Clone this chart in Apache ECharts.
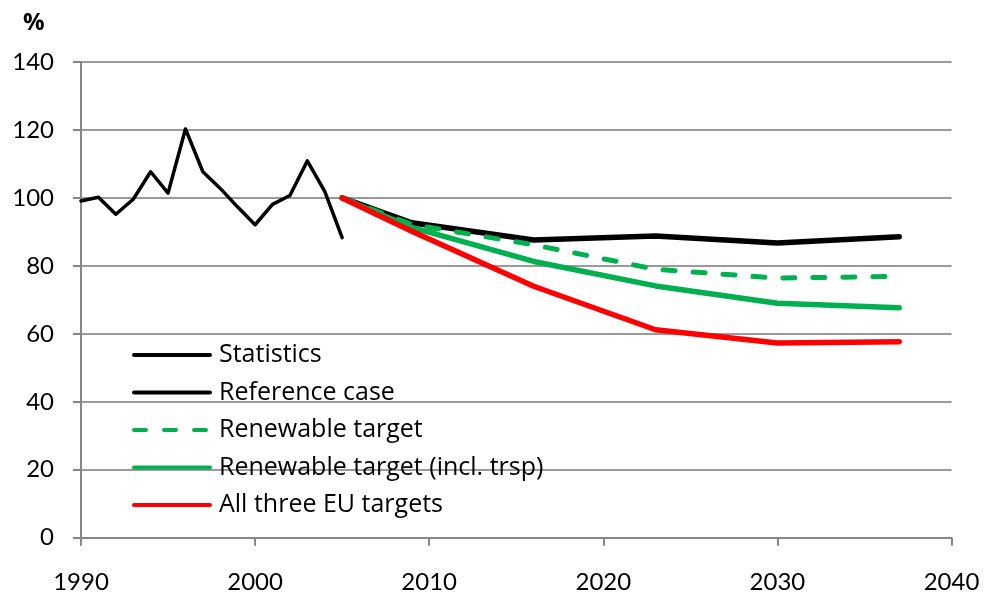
<!DOCTYPE html>
<html>
<head>
<meta charset="utf-8">
<script src="https://cdn.jsdelivr.net/npm/echarts@6/dist/echarts.min.js"></script>
<style>
  html, body { margin: 0; padding: 0; background: #ffffff; }
  #chart { width: 984px; height: 597px; }
</style>
</head>
<body>
<div id="chart"></div>
<script>
// Historical statistics (index, 2005 = 100)
const statYears = [1990, 1991, 1992, 1993, 1994, 1995, 1996, 1997, 1998, 1999, 2000, 2001, 2002, 2003, 2004, 2005];
const statValues = [99.1, 100.2, 95.2, 99.6, 107.7, 101.4, 120.3, 107.7, 102.8, 97.3, 92.1, 98.1, 100.7, 110.9, 101.9, 88.3];

// Scenario years and values
const scenYears = [2005, 2009, 2016, 2023, 2030, 2037];
const referenceCase = [100, 92.7, 87.6, 88.8, 86.7, 88.6];
const renewableTarget = [100, 92.2, 86.2, 79.0, 76.4, 76.9];
const renewableTrsp = [100, 91.3, 81.3, 74.1, 69.0, 67.7];
const allThreeTargets = [100, 90.2, 74.0, 61.2, 57.3, 57.7];

// Axis ticks
const xTicks = [1990, 2000, 2010, 2020, 2030, 2040];
const yTicks = [0, 20, 40, 60, 80, 100, 120, 140];

const seriesNames = ['Statistics', 'Reference case', 'Renewable target', 'Renewable target (incl. trsp)', 'All three EU targets'];

function pairs(xs, ys) { return xs.map((x, i) => [x, ys[i]]); }

const FONT = 'Lato, "Open Sans", sans-serif';
const LEGEND_FONT = '"Open Sans", Lato, sans-serif';
const GREEN = '#00B050';

const chart = echarts.init(document.getElementById('chart'), null, { renderer: 'canvas' });

function lineSeries(name, data, color, width, dash) {
  return {
    name: name,
    type: 'line',
    data: data,
    symbol: 'none',
    smooth: false,
    animation: false,
    lineStyle: { color: color, width: width, type: dash || 'solid', cap: 'round', join: 'round' },
    itemStyle: { color: color }
  };
}

chart.setOption({
  animation: false,
  backgroundColor: '#ffffff',
  title: {
    text: '%',
    left: 23,
    top: 11,
    padding: 0,
    textStyle: { fontFamily: '"Open Sans", sans-serif', fontWeight: 'bold', fontSize: 24, color: '#000' }
  },
  grid: { left: 81, right: 32.5, top: 62, bottom: 59.3, containLabel: false },
  legend: {
    orient: 'vertical',
    left: 132,
    top: 342,
    padding: 0,
    itemWidth: 76,
    itemHeight: 14,
    itemGap: 11.5,
    itemStyle: { opacity: 0 },
    lineStyle: { width: 4 },
    textStyle: { fontFamily: LEGEND_FONT, fontSize: 25, color: '#000', lineHeight: 26, padding: [0, 0, 0, 4] },
    data: seriesNames.slice()
  },
  xAxis: {
    type: 'value',
    min: xTicks[0],
    max: xTicks[xTicks.length - 1],
    interval: 10,
    axisLine: { show: true, lineStyle: { color: '#878787', width: 2 } },
    axisTick: { show: true, inside: false, length: 8, lineStyle: { color: '#878787', width: 2 } },
    axisLabel: { margin: 33, fontFamily: FONT, fontSize: 24, color: '#000', formatter: v => String(v) },
    splitLine: { show: false }
  },
  yAxis: {
    type: 'value',
    min: yTicks[0],
    max: yTicks[yTicks.length - 1],
    interval: 20,
    axisLine: { show: true, lineStyle: { color: '#878787', width: 2 } },
    axisTick: { show: true, inside: false, length: 8, lineStyle: { color: '#878787', width: 2 } },
    axisLabel: { margin: 27, fontFamily: FONT, fontSize: 24, color: '#000' },
    splitLine: { show: true, lineStyle: { color: '#9a9a9a', width: 2 } }
  },
  series: [
    lineSeries(seriesNames[0], pairs(statYears, statValues), '#000000', 3.5),
    lineSeries(seriesNames[1], pairs(scenYears, referenceCase), '#000000', 5.5),
    lineSeries(seriesNames[2], pairs(scenYears, renewableTarget), GREEN, 5, [12, 18]),
    lineSeries(seriesNames[3], pairs(scenYears, renewableTrsp), GREEN, 5.5),
    lineSeries(seriesNames[4], pairs(scenYears, allThreeTargets), '#FF0000', 5.5)
  ]
});
</script>
</body>
</html>
